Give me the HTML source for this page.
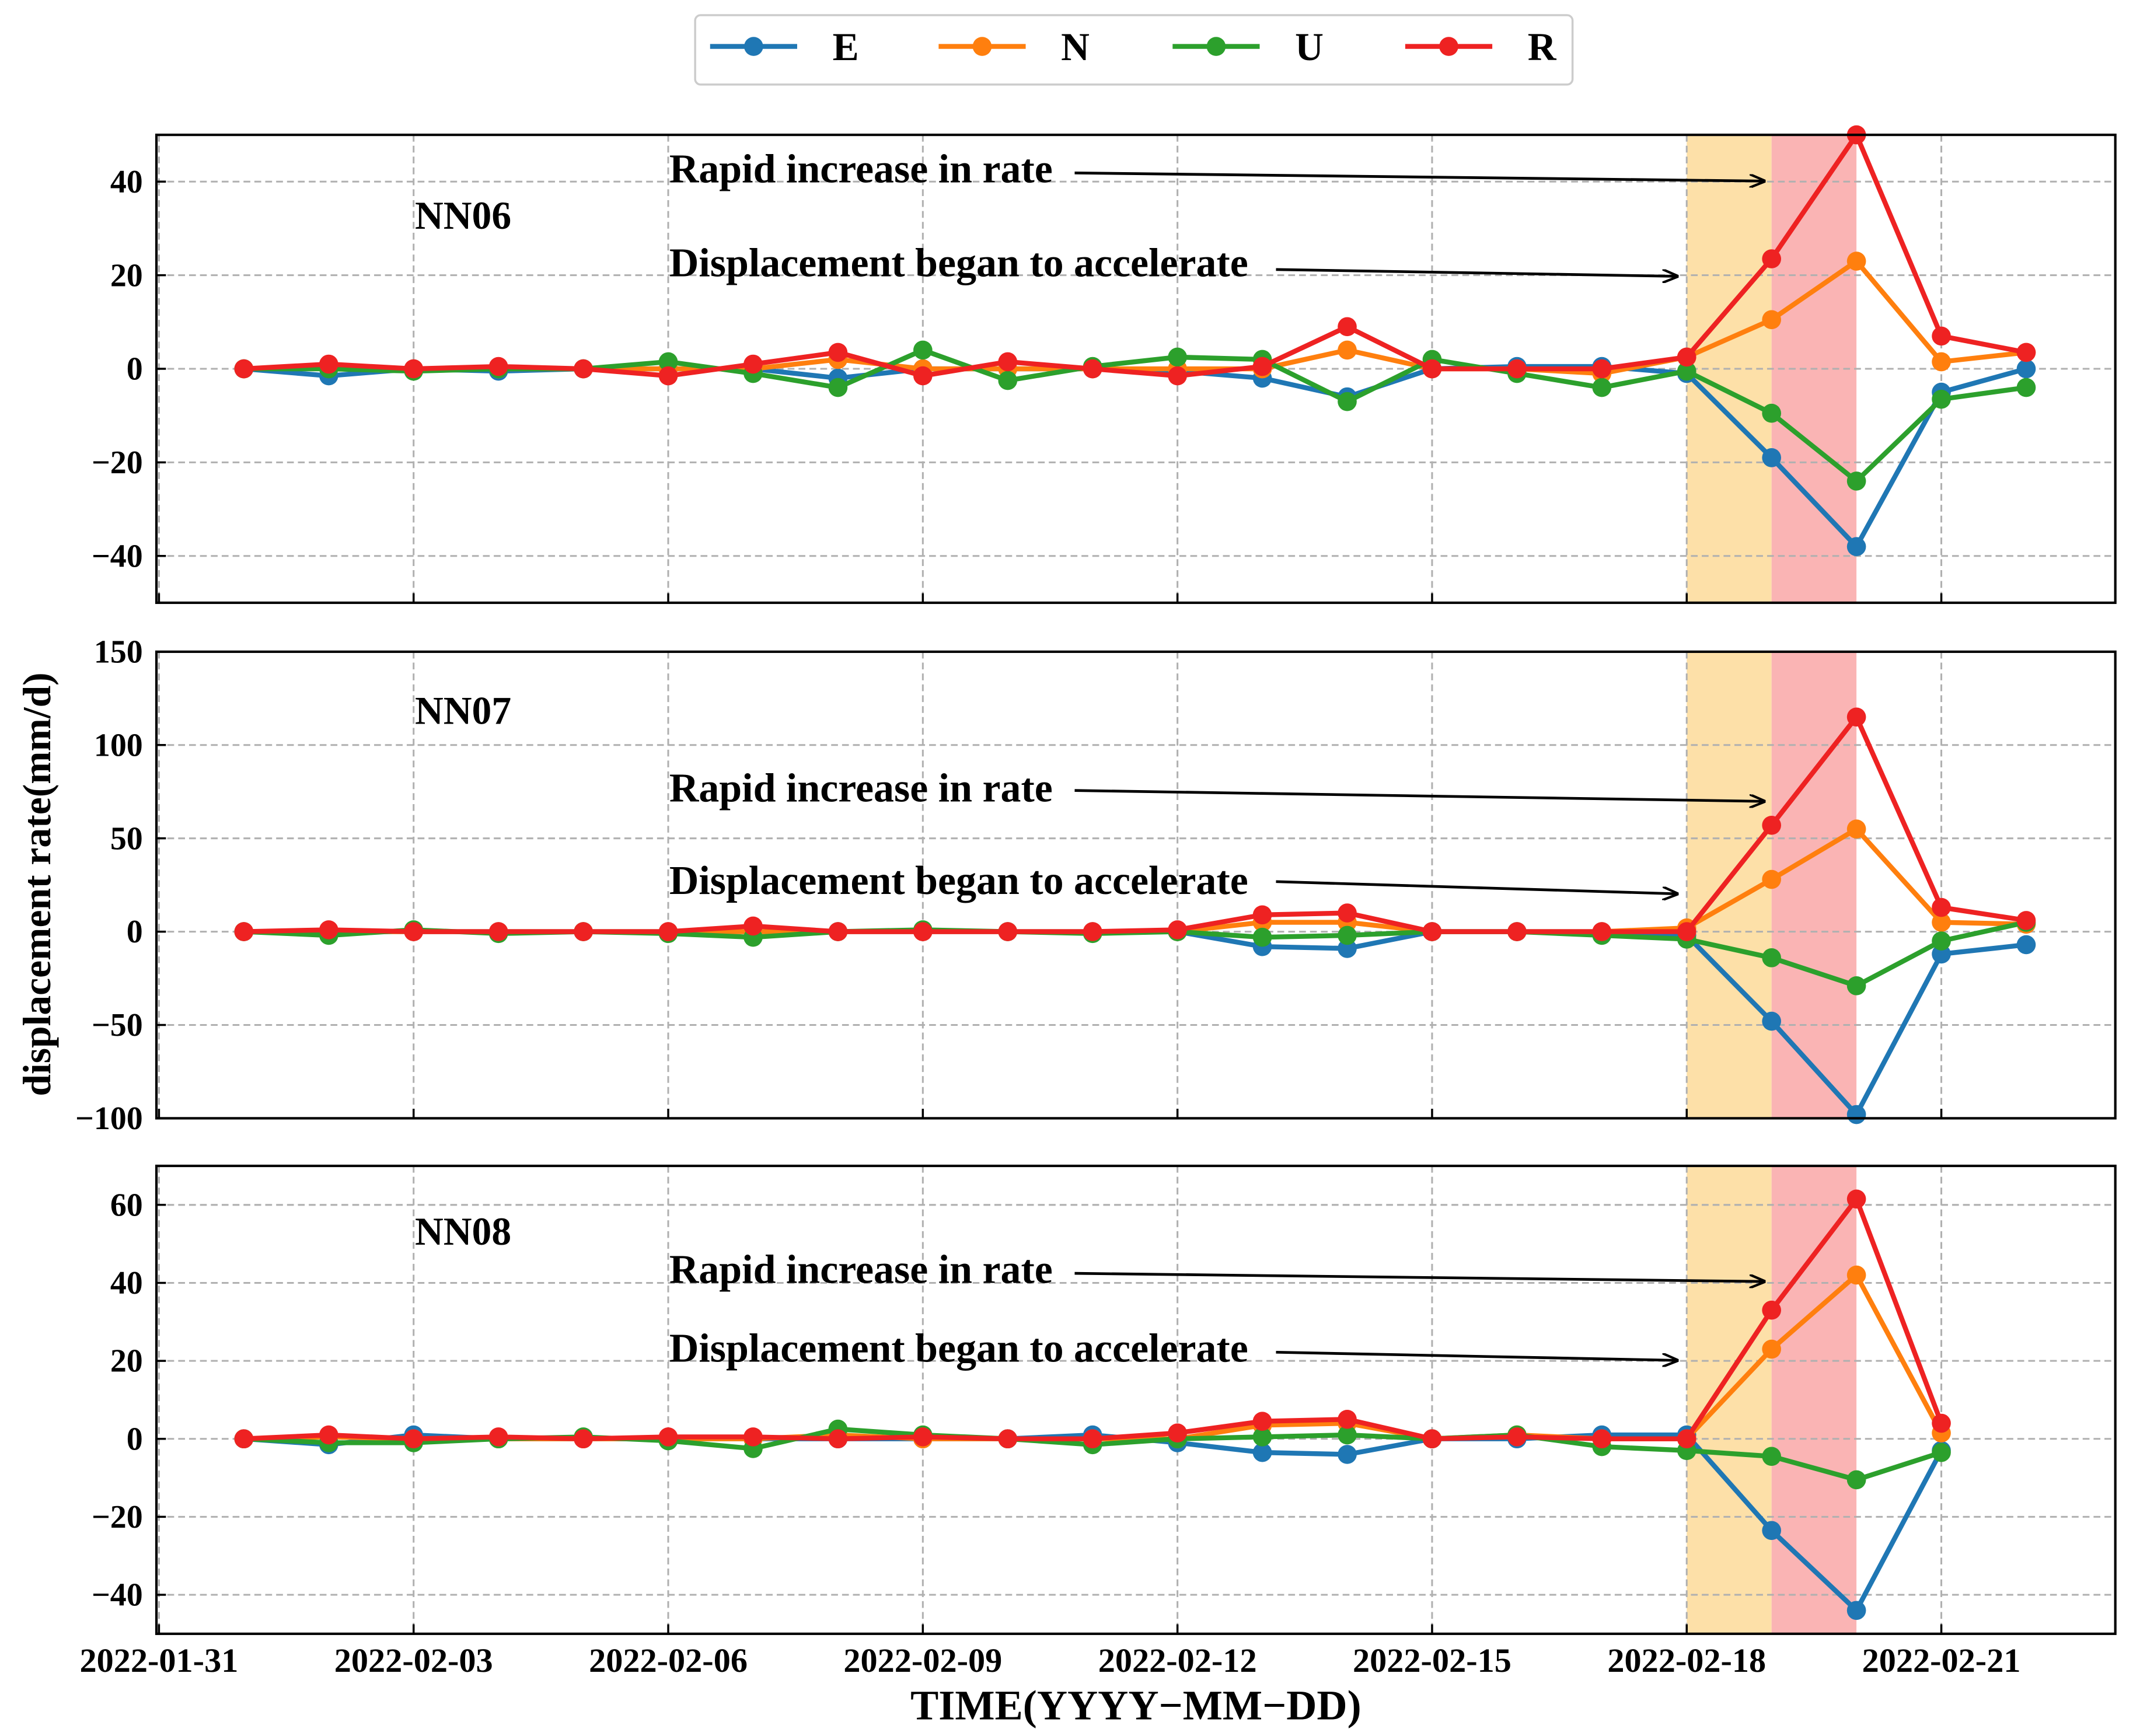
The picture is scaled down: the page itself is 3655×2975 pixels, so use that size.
<!DOCTYPE html>
<html><head><meta charset="utf-8"><style>
html,body{margin:0;padding:0;background:#fff}
svg{display:block}
text{font-family:"Liberation Serif",serif;font-weight:bold;fill:#000}
</style></head><body>
<svg id="chart" xmlns="http://www.w3.org/2000/svg" width="3655" height="2975" viewBox="0 0 1568 1276">
<defs><marker id="ah" markerWidth="12" markerHeight="10" refX="11" refY="5" orient="auto" markerUnits="userSpaceOnUse"><path d="M0,0 L12,5 L0,10" fill="none" stroke="#000" stroke-width="1.8"/></marker></defs>
</svg>
<script>
const xTickLabels=["2022-01-31","2022-02-03","2022-02-06","2022-02-09","2022-02-12","2022-02-15","2022-02-18","2022-02-21"];
const xTickDays=[0,3,6,9,12,15,18,21];
const seriesNames=["E","N","U","R"];
const seriesColors=["#1f77b4","#ff7f0e","#2ca02c","#ee2222"];
const nn06E=[0,-1.5,0,-0.5,0,0,0,-2,0,0,0,-0.5,-2,-6,0,0.5,0.5,-1,-19,-38,-5,0];
const nn06N=[0,0.5,0,0,0,0,0,2,0,0,0,0,0,4,0,0,-1,2.5,10.5,23,1.5,3.5];
const nn06U=[0,0,-0.5,0,0,1.5,-1,-4,4,-2.5,0.5,2.5,2,-7,2,-1,-4,-0.5,-9.5,-24,-6.5,-4];
const nn06R=[0,1,0,0.5,0,-1.5,1,3.5,-1.5,1.5,0,-1.5,0.5,9,0,0,0,2.5,23.5,50,7,3.5];
const nn07E=[0,0,0,0,0,0,0,0,0,0,0,0,-8,-9,0,0,0,-2,-48,-98,-12,-7];
const nn07N=[0,0,0,0,0,0,0,0,0,0,0,0,5,5,0,0,0,2,28,55,5,4];
const nn07U=[0,-2,1,-1,0,-1,-3,0,1,0,-1,0,-3,-2,0,0,-2,-4,-14,-29,-5,5];
const nn07R=[0,1,0,0,0,0,3,0,0,0,0,1,9,10,0,0,0,0,57,115,13,6];
const nn08E=[0,-1.5,1,0,0,0,0,0,0,0,1,-1,-3.5,-4,0,0,1,1,-23.5,-44,-3];
const nn08N=[0,0.5,0,0,0,0,0,1,0,0,0,0,3.5,4,0,1,0,0,23,42,1.5];
const nn08U=[0,-1,-1,0,0.5,-0.5,-2.5,2.5,1,0,-1.5,0,0.5,1,0,1,-2,-3,-4.5,-10.5,-3.5];
const nn08R=[0,1,0,0.5,0,0.5,0.5,0,0.5,0,0,1.5,4.5,5,0,0.5,0,0,33,61.5,4];
const panelNames=["NN06","NN07","NN08"];
const panelTicks=[[-40,-20,0,20,40],[-100,-50,0,50,100,150],[-40,-20,0,20,40,60]];
const panelLims=[[-50,50],[-100,150],[-50,70]];
const panelData=[[nn06E,nn06N,nn06U,nn06R],[nn07E,nn07N,nn07U,nn07R],[nn08E,nn08N,nn08U,nn08R]];
const panelBoxes=[[99,443],[479,822],[857,1201]];
const X0=115,X1=1555,DMIN=-0.03,DMAX=23.05;
const svg=document.getElementById('chart');
const NS="http://www.w3.org/2000/svg";
function el(t,a,p){const e=document.createElementNS(NS,t);for(const k in a)e.setAttribute(k,a[k]);(p||svg).appendChild(e);return e;}
function xs(d){return X0+(d-DMIN)/(DMAX-DMIN)*(X1-X0);}
const labelY=[168,532,915];
const rapidY=[[134,127,133],[589,581,589],[943,936,942]];
const accY=[[203,198,203],[657,648,657],[1001,994,1000]];
panelNames.forEach((nm,pi)=>{
  const [top,bot]=panelBoxes[pi],[lo,hi]=panelLims[pi];
  const ys=v=>bot-(v-lo)/(hi-lo)*(bot-top);
  const g=el('g',{});
  
  
  const s1=el('rect',{x:xs(18),y:top,width:xs(19)-xs(18),height:bot-top,fill:'#fde0a8'},g);
  
  
  const s2=el('rect',{x:xs(19),y:top,width:xs(20)-xs(19),height:bot-top,fill:'#fab4b4'},g);
  
  
  xTickDays.forEach((d,i)=>{
    el('line',{x1:xs(d),x2:xs(d),y1:top,y2:bot,stroke:'#b0b0b0','stroke-width':1.3,'stroke-dasharray':'5,3'},g);
    el('line',{x1:xs(d),x2:xs(d),y1:bot,y2:bot-7,stroke:'#000','stroke-width':1.5},g);
    if(pi==2){const t=el('text',{x:xs(d),y:1229,'font-size':25,'text-anchor':'middle'},g);t.textContent=xTickLabels[i];
      
      }
  });
  panelTicks[pi].forEach(v=>{
    el('line',{x1:X0,x2:X1,y1:ys(v),y2:ys(v),stroke:'#b0b0b0','stroke-width':1.3,'stroke-dasharray':'5,3'},g);
    el('line',{x1:X0,x2:X0+7,y1:ys(v),y2:ys(v),stroke:'#000','stroke-width':1.5},g);
    const t=el('text',{x:105,y:ys(v)+8,'font-size':24,'text-anchor':'end'},g);
    t.textContent=v<0?'\u2212'+(-v):String(v);
    
    
  });
  panelData[pi].forEach((arr,si)=>{
    const pts=arr.map((v,i)=>xs(i+1)+','+ys(v)).join(' ');
    const pl=el('polyline',{points:pts,fill:'none',stroke:seriesColors[si],'stroke-width':3.6},g);
    
    
    arr.forEach((v,i)=>{const c=el('circle',{cx:xs(i+1),cy:ys(v),r:7,fill:seriesColors[si]},g);
      
      });
  });
  el('rect',{x:X0,y:top,width:X1-X0,height:bot-top,fill:'none',stroke:'#000','stroke-width':1.8},g);
  const lab=el('text',{x:305,y:labelY[pi],'font-size':29},g);lab.textContent=nm;
  
  
  const r=rapidY[pi],a=accY[pi];
  const t1=el('text',{x:492,y:r[0],'font-size':30},g);t1.textContent='Rapid increase in rate';
  
  
  el('line',{x1:790,y1:r[1],x2:1297,y2:r[2],stroke:'#000','stroke-width':2,'marker-end':'url(#ah)'},g);
  const t2=el('text',{x:492,y:a[0],'font-size':30},g);t2.textContent='Displacement began to accelerate';
  
  
  el('line',{x1:938,y1:a[1],x2:1233,y2:a[2],stroke:'#000','stroke-width':2,'marker-end':'url(#ah)'},g);
});
const xt=el('text',{x:835,y:1264,'font-size':31,'text-anchor':'middle'});xt.textContent='TIME(YYYY\u2212MM\u2212DD)';


const yt=el('text',{x:0,y:0,'font-size':29,'text-anchor':'middle',transform:'translate(37,650) rotate(-90)'});yt.textContent='displacement rate(mm/d)';


const lg=el('g',{});


el('rect',{x:511,y:11,width:645,height:51,rx:4,fill:'#fff',stroke:'#ccc','stroke-width':1.5},lg);
const lx=[522,690,862,1033];
seriesNames.forEach((n,i)=>{
  const e=el('g',{},lg);
  
  
  el('line',{x1:lx[i],x2:lx[i]+64,y1:34,y2:34,stroke:seriesColors[i],'stroke-width':3.6},e);
  el('circle',{cx:lx[i]+32,cy:34,r:7,fill:seriesColors[i]},e);
  const t=el('text',{x:lx[i]+90,y:44,'font-size':29},e);t.textContent=n;
});
</script>
</body></html>
